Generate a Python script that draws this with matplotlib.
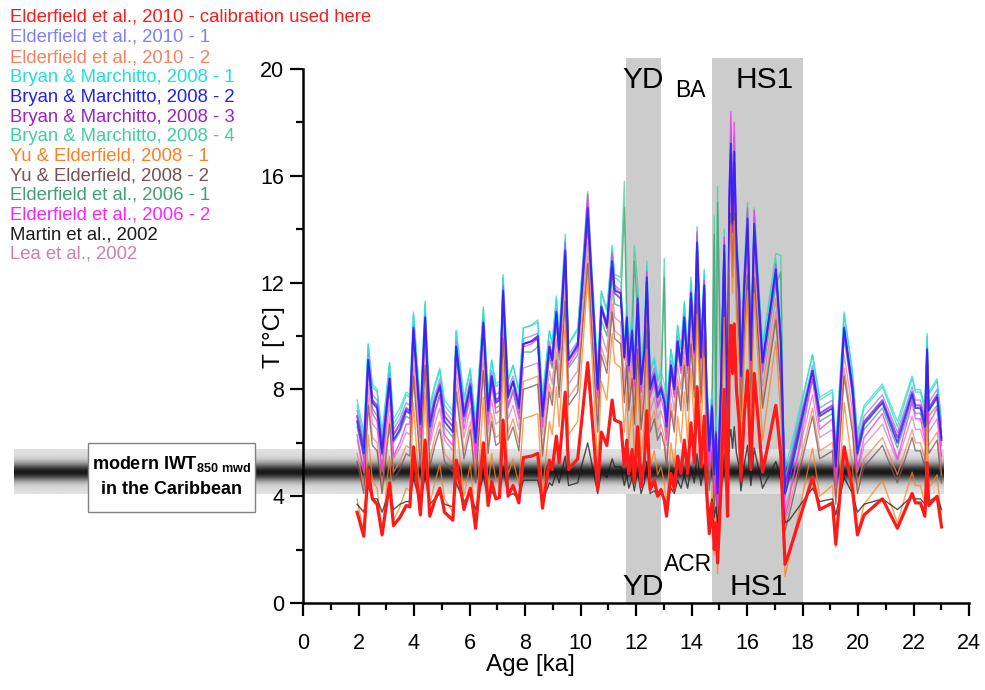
#!/usr/bin/env python3
"""
Bottom-water temperature from one Mg/Ca record, converted with 13 different calibrations
"""

import numpy as np
import matplotlib
matplotlib.use('Agg')
import matplotlib.pyplot as plt
from matplotlib.patches import Rectangle
from matplotlib.ticker import MultipleLocator

plt.rcParams['font.family'] = 'Liberation Sans'
plt.rcParams['mathtext.fontset'] = 'custom'
plt.rcParams['mathtext.rm'] = 'Liberation Sans'
plt.rcParams['mathtext.bf'] = 'Liberation Sans:bold'

# Age [ka] of the samples
age = [1.95, 2.19, 2.35, 2.50, 2.67, 2.85, 3.12, 3.26, 3.49, 3.72,
       3.85, 3.98, 4.23, 4.40, 4.57, 4.75, 4.93, 5.10, 5.40, 5.52,
       5.80, 6.03, 6.22, 6.50, 6.67, 6.80, 6.95, 7.08, 7.21, 7.39,
       7.57, 7.78, 7.94, 8.23, 8.46, 8.63, 8.88, 8.98, 9.13, 9.23,
       9.45, 9.57, 9.90, 10.03, 10.26, 10.62, 10.75, 10.95, 11.14, 11.23,
       11.45, 11.58, 11.67, 11.74, 11.86, 11.94, 12.06, 12.18, 12.30, 12.39,
       12.51, 12.66, 12.78, 12.90, 13.02, 13.10, 13.26, 13.38, 13.50, 13.62,
       13.74, 13.86, 13.98, 14.10, 14.20, 14.34, 14.46, 14.54, 14.64, 14.74,
       14.82, 14.88, 14.94, 15.06, 15.18, 15.24, 15.30, 15.36, 15.42, 15.48,
       15.54, 15.62, 15.72, 15.78, 15.90, 16.02, 16.14, 16.26, 16.56, 17.04,
       17.22, 17.30, 17.37, 17.52, 18.36, 18.62, 19.08, 19.20, 19.50, 19.80,
       19.98, 20.22, 20.88, 21.42, 21.95, 22.07, 22.25, 22.41, 22.49, 22.55,
       22.85, 23.01]

# Temperature [deg C] per calibration
t_e2010_used = [3.4, 2.5, 5.0, 3.9, 3.7, 2.55, 4.5, 2.9, 3.2, 3.65,
                3.6, 5.85, 3.3, 6.1, 3.25, 3.85, 4.3, 3.4, 3.1, 5.35,
                3.5, 4.3, 2.8, 6.0, 3.65, 4.55, 3.9, 3.95, 6.85, 4.0,
                4.4, 3.75, 5.45, 5.5, 5.6, 3.55, 5.35, 5.0, 6.25, 5.25,
                7.9, 5.0, 5.4, 6.7, 9.0, 4.25, 6.4, 5.9, 7.6, 6.85,
                6.75, 5.1, 6.1, 4.85, 5.75, 4.5, 6.6, 4.35, 5.25, 7.2,
                4.25, 4.6, 4.0, 4.25, 3.85, 3.25, 4.85, 4.25, 5.5, 4.85,
                6.1, 4.85, 6.75, 5.25, 8.1, 5.1, 7.0, 4.25, 2.6, 3.75,
                2.0, 3.0, 1.5, 4.25, 8.0, 5.5, 3.25, 9.2, 10.4, 8.6,
                10.45, 8.0, 6.75, 4.6, 7.0, 8.7, 5.0, 8.6, 4.9, 7.4,
                5.5, 3.2, 1.45, 1.9, 4.7, 3.5, 3.75, 2.2, 5.85, 4.25,
                2.55, 3.3, 3.9, 2.8, 4.1, 3.75, 3.75, 3.25, 5.25, 3.65,
                4.0, 2.85]

t_e2010_1 = [7.2, 6.0, 9.3, 7.8, 7.6, 6.0, 8.6, 6.5, 6.9, 7.5,
             7.4, 10.4, 7.0, 10.8, 7.0, 7.8, 8.4, 7.2, 6.8, 9.8,
             7.3, 8.4, 6.4, 10.6, 7.5, 8.7, 7.8, 7.9, 11.8, 8.0,
             8.5, 7.6, 9.9, 10.0, 10.1, 7.4, 9.8, 9.3, 11.0, 9.6,
             13.2, 9.3, 9.8, 11.6, 14.6, 8.3, 11.2, 10.5, 12.8, 11.8,
             11.6, 9.4, 10.8, 9.1, 10.3, 8.6, 11.4, 8.4, 9.6, 12.2,
             8.3, 8.8, 8.0, 8.3, 7.8, 7.0, 9.1, 8.3, 10.0, 9.1,
             10.8, 9.1, 11.6, 9.6, 13.4, 9.4, 12.0, 8.3, 6.1, 7.6,
             5.3, 6.6, 4.7, 8.3, 13.3, 10.0, 7.0, 14.9, 17.0, 14.1,
             16.7, 13.3, 11.6, 8.8, 12.0, 14.2, 9.3, 14.1, 9.2, 12.5,
             10.0, 6.9, 4.6, 5.2, 8.9, 7.3, 7.6, 5.6, 10.4, 8.3,
             6.0, 7.0, 7.8, 6.4, 8.1, 7.6, 7.6, 7.0, 9.6, 7.5,
             8.0, 6.4]

t_e2010_2 = [5.6, 4.4, 7.7, 6.2, 6.0, 4.4, 7.0, 4.9, 5.3, 5.9,
             5.8, 8.8, 5.4, 9.2, 5.4, 6.2, 6.8, 5.6, 5.2, 8.2,
             5.7, 6.8, 4.8, 9.0, 5.9, 7.1, 6.2, 6.3, 10.2, 6.4,
             6.9, 6.0, 8.3, 8.4, 8.5, 5.8, 8.2, 7.7, 9.4, 8.0,
             11.6, 7.7, 8.2, 10.0, 13.0, 6.7, 9.6, 8.9, 11.2, 10.2,
             10.0, 7.8, 9.2, 7.5, 8.7, 7.0, 9.8, 6.8, 8.0, 10.6,
             6.7, 7.2, 6.4, 6.7, 6.2, 5.4, 7.5, 6.7, 8.4, 7.5,
             9.2, 7.5, 10.0, 8.0, 11.8, 7.8, 10.4, 6.7, 4.5, 6.0,
             3.7, 5.0, 3.1, 6.7, 11.7, 8.4, 5.4, 13.3, 14.9, 12.5,
             14.9, 11.7, 10.0, 7.2, 10.4, 12.6, 7.7, 12.5, 7.6, 10.9,
             8.4, 5.3, 3.0, 3.6, 7.3, 5.7, 6.0, 4.0, 8.8, 6.7,
             4.4, 5.4, 6.2, 4.8, 6.5, 6.0, 6.0, 5.4, 8.0, 5.9,
             6.4, 4.8]

t_bm2008_1 = [7.6, 6.4, 9.7, 8.2, 8.0, 6.4, 9.0, 6.9, 7.3, 7.9,
              7.8, 10.8, 7.4, 11.2, 7.4, 8.2, 8.8, 7.6, 7.2, 10.2,
              7.7, 8.8, 6.8, 11.0, 7.9, 9.1, 8.2, 8.3, 12.2, 8.4,
              8.9, 8.0, 10.3, 10.4, 10.5, 7.8, 10.2, 9.7, 11.4, 10.0,
              13.6, 9.7, 10.2, 12.0, 15.0, 8.7, 11.6, 10.9, 13.2, 12.2,
              12.0, 9.8, 11.2, 9.5, 10.7, 9.0, 11.8, 8.8, 10.0, 12.6,
              8.7, 9.2, 8.4, 8.7, 8.2, 7.4, 9.5, 8.7, 10.4, 9.5,
              11.2, 9.5, 12.0, 10.0, 13.8, 9.8, 12.4, 8.7, 6.5, 8.0,
              5.7, 7.0, 5.1, 8.7, 13.7, 10.4, 7.4, 15.3, 17.3, 14.5,
              17.0, 13.7, 12.0, 9.2, 12.4, 14.6, 9.7, 14.5, 9.6, 12.9,
              10.4, 7.3, 5.0, 5.6, 9.3, 7.7, 8.0, 6.0, 10.8, 8.7,
              6.4, 7.4, 8.2, 6.8, 8.5, 8.0, 8.0, 7.4, 10.0, 7.9,
              8.4, 6.8]

t_bm2008_2 = [6.8, 5.6, 9.1, 7.5, 7.3, 5.6, 8.4, 6.1, 6.5, 7.2,
              7.1, 10.3, 6.7, 10.7, 6.6, 7.5, 8.1, 6.8, 6.4, 9.6,
              7.0, 8.1, 6.0, 10.5, 7.2, 8.5, 7.5, 7.6, 11.7, 7.7,
              8.3, 7.3, 9.7, 9.8, 10.0, 7.0, 9.6, 9.1, 10.9, 9.5,
              13.2, 9.1, 9.7, 11.5, 14.8, 8.0, 11.1, 10.4, 12.8, 11.7,
              11.6, 9.2, 10.7, 8.9, 10.2, 8.4, 11.4, 8.2, 9.5, 12.2,
              8.0, 8.5, 7.7, 8.0, 7.5, 6.6, 8.9, 8.0, 9.8, 8.9,
              10.7, 8.9, 11.6, 9.5, 13.5, 9.2, 11.9, 8.0, 5.7, 7.3,
              4.8, 6.3, 4.1, 8.0, 13.4, 9.8, 6.6, 15.1, 17.2, 14.2,
              16.9, 13.4, 11.6, 8.5, 11.9, 14.4, 9.1, 14.2, 9.0, 12.5,
              9.8, 6.5, 4.1, 4.7, 8.7, 7.0, 7.3, 5.1, 10.3, 8.0,
              5.6, 6.7, 7.5, 6.0, 7.8, 7.3, 7.3, 6.6, 9.5, 7.2,
              7.7, 6.1]

t_bm2008_3 = [7.0, 5.8, 9.1, 7.6, 7.4, 5.8, 8.4, 6.3, 6.7, 7.3,
              7.2, 10.2, 6.8, 10.6, 6.8, 7.6, 8.2, 7.0, 6.6, 9.6,
              7.1, 8.2, 6.2, 10.4, 7.3, 8.5, 7.6, 7.7, 11.6, 7.8,
              8.3, 7.4, 9.7, 9.8, 9.9, 7.2, 9.6, 9.1, 10.8, 9.4,
              13.0, 9.1, 9.6, 11.4, 14.4, 8.1, 11.0, 10.3, 12.6, 11.6,
              11.4, 9.2, 10.6, 8.9, 10.1, 8.4, 11.2, 8.2, 9.4, 12.0,
              8.1, 8.6, 7.8, 8.1, 7.6, 6.8, 8.9, 8.1, 9.8, 8.9,
              10.6, 8.9, 11.4, 9.4, 13.2, 9.2, 11.8, 8.1, 5.9, 7.4,
              5.1, 6.4, 4.5, 8.1, 13.1, 9.8, 6.8, 14.7, 16.8, 13.9,
              16.5, 13.1, 11.4, 8.6, 11.8, 14.0, 9.1, 13.9, 9.0, 12.3,
              9.8, 6.7, 4.4, 5.0, 8.7, 7.1, 7.4, 5.4, 10.2, 8.1,
              5.8, 6.8, 7.6, 6.2, 7.9, 7.4, 7.4, 6.8, 9.4, 7.3,
              7.8, 6.2]

t_bm2008_4 = [7.4, 6.2, 9.7, 8.1, 7.9, 6.2, 9.0, 6.7, 7.1, 7.8,
              7.7, 10.9, 7.3, 11.3, 7.2, 8.1, 8.7, 7.4, 7.0, 10.2,
              7.6, 8.7, 6.6, 11.1, 7.8, 9.1, 8.1, 8.2, 12.3, 8.3,
              8.9, 7.9, 10.3, 10.4, 10.6, 7.6, 10.2, 9.7, 11.5, 10.1,
              13.8, 9.7, 10.3, 12.1, 15.4, 8.6, 11.7, 11.0, 13.4, 12.3,
              12.2, 15.8, 11.3, 9.5, 10.8, 13.4, 12.0, 8.8, 10.1, 12.8,
              8.6, 9.1, 8.3, 8.6, 12.9, 7.2, 9.5, 8.6, 10.4, 9.5,
              11.3, 9.5, 12.2, 10.1, 14.1, 9.8, 12.5, 8.6, 6.3, 7.9,
              14.5, 6.9, 15.6, 8.6, 14.0, 10.4, 7.2, 15.7, 17.8, 14.8,
              17.5, 14.0, 12.2, 9.1, 12.5, 15.0, 9.7, 14.8, 9.6, 13.1,
              13.0, 7.1, 4.7, 5.3, 9.3, 7.6, 7.9, 5.7, 10.9, 8.6,
              6.2, 7.3, 8.1, 6.6, 8.4, 7.9, 7.9, 7.2, 10.1, 7.8,
              8.3, 6.7]

t_ye2008_1 = [3.9, 2.6, 6.3, 4.6, 4.3, 2.6, 5.5, 3.1, 3.6, 4.3,
              4.2, 7.5, 3.7, 7.9, 3.7, 4.5, 5.2, 3.9, 3.4, 6.8,
              4.0, 5.2, 3.0, 7.7, 4.3, 5.6, 4.6, 4.7, 9.0, 4.8,
              5.4, 4.4, 6.9, 7.0, 7.1, 4.1, 6.8, 6.3, 8.1, 6.6,
              10.5, 6.3, 6.8, 8.8, 12.2, 5.1, 8.3, 7.6, 10.1, 9.0,
              8.8, 6.4, 7.9, 6.0, 7.4, 5.5, 8.6, 5.3, 6.6, 9.5,
              5.1, 5.7, 4.8, 5.1, 4.5, 3.7, 6.0, 5.1, 7.0, 6.0,
              7.9, 6.0, 8.8, 6.6, 10.8, 6.4, 9.2, 5.1, 2.7, 4.4,
              1.8, 3.3, 1.1, 5.1, 10.7, 7.0, 3.7, 12.5, 14.2, 11.6,
              14.3, 10.7, 8.8, 5.7, 9.2, 11.7, 6.3, 11.6, 6.1, 9.8,
              7.0, 3.6, 1.0, 1.7, 5.8, 4.0, 4.4, 2.1, 7.5, 5.1,
              2.6, 3.7, 4.6, 3.0, 4.9, 4.4, 4.4, 3.7, 6.6, 4.3,
              4.8, 3.1]

t_ye2008_2 = [5.3, 4.1, 7.4, 5.9, 5.7, 4.1, 6.7, 4.6, 5.0, 5.6,
              5.5, 8.5, 5.1, 8.9, 5.1, 5.9, 6.5, 5.3, 4.9, 7.9,
              5.4, 6.5, 4.5, 8.7, 5.6, 6.8, 5.9, 6.0, 9.9, 6.1,
              6.6, 5.7, 8.0, 8.1, 8.2, 5.5, 7.9, 7.4, 9.1, 7.7,
              11.3, 7.4, 7.9, 9.7, 12.7, 6.4, 9.3, 8.6, 10.9, 9.9,
              9.7, 7.5, 8.9, 7.2, 8.4, 6.7, 9.5, 6.5, 7.7, 10.3,
              6.4, 6.9, 6.1, 6.4, 5.9, 5.1, 7.2, 6.4, 8.1, 7.2,
              8.9, 7.2, 9.7, 7.7, 11.5, 7.5, 10.1, 6.4, 4.2, 5.7,
              3.4, 4.7, 2.8, 6.4, 11.4, 8.1, 5.1, 13.0, 14.6, 12.2,
              14.6, 11.4, 9.7, 6.9, 10.1, 12.3, 7.4, 12.2, 7.3, 10.6,
              8.1, 5.0, 2.7, 3.3, 7.0, 5.4, 5.7, 3.7, 8.5, 6.4,
              4.1, 5.1, 5.9, 4.5, 6.2, 5.7, 5.7, 5.1, 7.7, 5.6,
              6.1, 4.5]

t_e2006_1 = [6.6, 5.4, 8.8, 7.3, 7.0, 5.5, 8.1, 6.0, 6.4, 7.0,
             6.9, 9.9, 6.5, 10.2, 6.4, 7.2, 7.8, 6.6, 6.2, 9.2,
             6.8, 7.8, 5.8, 10.1, 7.0, 8.2, 7.3, 7.4, 11.2, 7.4,
             8.0, 7.1, 9.4, 9.4, 9.6, 6.8, 9.2, 8.8, 10.4, 9.1,
             12.6, 8.8, 9.3, 11.0, 14.1, 7.8, 10.6, 10.0, 12.2, 11.2,
             11.1, 14.8, 10.2, 8.6, 9.8, 12.8, 10.9, 7.9, 9.1, 11.7,
             7.8, 8.2, 7.4, 7.8, 12.2, 6.4, 8.6, 7.8, 9.4, 8.6,
             10.2, 8.6, 11.1, 9.1, 12.9, 8.9, 11.4, 7.8, 5.6, 7.1,
             13.8, 6.1, 15.0, 7.8, 12.7, 9.4, 6.4, 14.3, 16.4, 13.5,
             16.1, 12.7, 11.1, 8.2, 11.4, 13.7, 8.8, 13.5, 8.6, 11.9,
             12.4, 6.4, 4.0, 4.6, 8.4, 6.8, 7.1, 5.0, 9.9, 7.8,
             5.5, 6.5, 7.3, 5.8, 7.6, 7.1, 7.1, 6.4, 9.1, 7.0,
             7.4, 5.9]

t_e2006_2 = [6.3, 4.9, 8.9, 7.1, 6.8, 5.0, 8.1, 5.5, 6.0, 6.7,
             6.7, 10.3, 6.2, 10.7, 6.1, 7.1, 7.8, 6.3, 5.9, 9.5,
             6.5, 7.8, 5.4, 10.5, 6.7, 8.2, 7.1, 7.2, 11.9, 7.3,
             7.9, 6.9, 9.6, 9.7, 9.9, 6.6, 9.5, 8.9, 10.9, 9.3,
             13.5, 8.9, 9.5, 11.6, 15.3, 7.7, 11.1, 10.3, 13.1, 11.9,
             11.7, 9.1, 10.7, 8.7, 10.1, 8.1, 11.5, 7.9, 9.3, 12.4,
             7.7, 8.3, 7.3, 7.7, 7.1, 6.1, 8.7, 7.7, 9.7, 8.7,
             10.7, 8.7, 11.7, 9.3, 13.9, 9.1, 12.1, 7.7, 5.1, 6.9,
             4.1, 5.7, 3.3, 7.7, 13.7, 9.7, 6.1, 15.6, 18.4, 14.7,
             18.0, 13.7, 11.7, 8.3, 12.1, 14.8, 8.9, 14.7, 8.7, 12.7,
             9.7, 6.0, 3.2, 3.9, 8.4, 6.5, 6.9, 4.4, 10.3, 7.7,
             5.0, 6.2, 7.1, 5.4, 7.5, 6.9, 6.9, 6.1, 9.3, 6.7,
             7.3, 5.5]

t_martin2002 = [3.7, 3.4, 4.4, 3.9, 3.9, 3.4, 4.2, 3.5, 3.7, 3.8,
                3.8, 4.7, 3.7, 4.8, 3.7, 3.9, 4.1, 3.7, 3.6, 4.5,
                3.8, 4.1, 3.5, 4.8, 3.8, 4.2, 3.9, 4.0, 5.1, 4.0,
                4.1, 3.9, 4.6, 4.6, 4.6, 3.8, 4.5, 4.4, 4.9, 4.5,
                5.5, 4.4, 4.5, 5.1, 6.0, 4.1, 4.9, 4.7, 5.4, 5.1,
                5.1, 4.4, 4.8, 4.3, 4.7, 4.2, 5.0, 4.1, 4.5, 5.3,
                4.1, 4.2, 4.0, 4.1, 3.9, 3.7, 4.3, 4.1, 4.6, 4.3,
                4.8, 4.3, 5.1, 4.5, 5.6, 4.4, 5.2, 4.1, 3.4, 3.9,
                3.2, 3.6, 3.0, 4.1, 5.6, 4.6, 3.7, 6.1, 6.5, 5.8,
                6.6, 5.6, 5.1, 4.2, 5.2, 5.9, 4.4, 5.8, 4.3, 5.3,
                4.6, 3.7, 3.0, 3.1, 4.3, 3.8, 3.9, 3.3, 4.7, 4.1,
                3.4, 3.7, 3.9, 3.5, 4.0, 3.9, 3.9, 3.7, 4.5, 3.8,
                4.0, 3.5]

t_lea2002 = [6.1, 4.9, 8.2, 6.7, 6.5, 4.9, 7.5, 5.4, 5.8, 6.4,
             6.3, 9.3, 5.9, 9.7, 5.9, 6.7, 7.3, 6.1, 5.7, 8.7,
             6.2, 7.3, 5.3, 9.5, 6.4, 7.6, 6.7, 6.8, 10.7, 6.9,
             7.4, 6.5, 8.8, 8.9, 9.0, 6.3, 8.7, 8.2, 9.9, 8.5,
             12.1, 8.2, 8.7, 10.5, 13.5, 7.2, 10.1, 9.4, 11.7, 10.7,
             10.5, 8.3, 9.7, 8.0, 9.2, 7.5, 10.3, 7.3, 8.5, 11.1,
             7.2, 7.7, 6.9, 7.2, 6.7, 5.9, 8.0, 7.2, 8.9, 8.0,
             9.7, 8.0, 10.5, 8.5, 12.3, 8.3, 10.9, 7.2, 5.0, 6.5,
             4.2, 5.5, 3.6, 7.2, 12.2, 8.9, 5.9, 13.8, 15.4, 13.0,
             15.5, 12.2, 10.5, 7.7, 10.9, 13.1, 8.2, 13.0, 8.1, 11.4,
             8.9, 5.8, 3.5, 4.1, 7.8, 6.2, 6.5, 4.5, 9.3, 7.2,
             4.9, 5.9, 6.7, 5.3, 7.0, 6.5, 6.5, 5.9, 8.5, 6.4,
             6.9, 5.3]

# Legend entries (top to bottom) with their colours
labels = ['Elderfield et al., 2010 - calibration used here',
          'Elderfield et al., 2010 - 1',
          'Elderfield et al., 2010 - 2',
          'Bryan & Marchitto, 2008 - 1',
          'Bryan & Marchitto, 2008 - 2',
          'Bryan & Marchitto, 2008 - 3',
          'Bryan & Marchitto, 2008 - 4',
          'Yu & Elderfield, 2008 - 1',
          'Yu & Elderfield, 2008 - 2',
          'Elderfield et al., 2006 - 1',
          'Elderfield et al., 2006 - 2',
          'Martin et al., 2002',
          'Lea et al., 2002']
colors = ['#ff1a1a', '#7f7fff', '#f9805f', '#1fe0e0', '#2020ff', '#9a22c8',
          '#40cf9f', '#ff7f20', '#7a5050', '#40a070', '#ff22ff', '#1a1a1a',
          '#d080a8']
series = [t_e2010_used, t_e2010_1, t_e2010_2, t_bm2008_1, t_bm2008_2,
          t_bm2008_3, t_bm2008_4, t_ye2008_1, t_ye2008_2, t_e2006_1,
          t_e2006_2, t_martin2002, t_lea2002]

# Climate intervals (shaded) and the modern intermediate-water band
yd_span = (11.65, 12.9)
hs1_span = (14.75, 18.0)
iwt_band = (4.1, 5.75)
iwt_core = 4.9


def main():
    fig = plt.figure(figsize=(9.85, 6.9), dpi=100)
    ax = fig.add_axes([303 / 985, 87 / 690, 666 / 985, 544.7 / 690])

    ax.axvspan(*yd_span, color='#cccccc', lw=0, zorder=0)
    ax.axvspan(*hs1_span, color='#cccccc', lw=0, zorder=0)

    # grey gradient bar, runs out to the left edge of the figure
    yy = np.linspace(iwt_band[1], iwt_band[0], 200)
    half = np.where(yy > iwt_core, iwt_band[1] - iwt_core, iwt_core - iwt_band[0])
    t = np.abs(yy - iwt_core) / half
    shade = 0.88 - 0.78 * np.exp(-(t / 0.4) ** 2)
    img = ax.imshow(shade[:, None], cmap='gray', vmin=0, vmax=1, aspect='auto',
                    extent=[-10.4, 23.1, iwt_band[0], iwt_band[1]],
                    interpolation='bilinear', zorder=1)
    img.set_clip_on(False)

    # draw order: light bundle first, red calibration on top
    order = [6, 9, 3, 12, 2, 8, 10, 1, 5, 4, 7, 11, 0]
    for i in order:
        lw, alpha = 1.0, 0.75
        if i in (4, 5):
            lw, alpha = 1.4, 0.8
        if i == 0:
            lw, alpha = 2.3, 1.0
        ax.plot(age, series[i], color=colors[i], lw=lw, alpha=alpha, zorder=2)

    ax.set_xlim(0, 24)
    ax.set_ylim(0, 20.4)
    ax.xaxis.set_major_locator(MultipleLocator(2))
    ax.xaxis.set_minor_locator(MultipleLocator(1))
    ax.yaxis.set_minor_locator(MultipleLocator(2))
    ax.set_yticks([0, 4, 8, 12, 16, 20])

    for s in ('top', 'right'):
        ax.spines[s].set_visible(False)
    for s in ('left', 'bottom'):
        ax.spines[s].set_linewidth(1.8)
    ax.spines['left'].set_bounds(0, 20)

    ax.tick_params(which='major', length=9.5, width=1.6, labelsize=15.5)
    ax.tick_params(which='minor', length=5, width=1.6)
    ax.tick_params(axis='x', which='major', pad=12)
    ax.tick_params(axis='y', which='major', pad=4)

    ax.set_xlabel('Age [ka]', fontsize=17.5)
    ax.xaxis.set_label_coords(0.342, -0.094)
    ax.set_ylabel('T [°C]', fontsize=17.5)
    ax.yaxis.set_label_coords(-0.027, 0.488)

    # interval labels
    ax.text(12.25, 19.29, 'YD', fontsize=21.5, ha='center', va='baseline')
    ax.text(13.95, 18.95, 'BA', fontsize=16.5, ha='center', va='baseline')
    ax.text(16.63, 19.29, 'HS1', fontsize=21.5, ha='center', va='baseline')
    ax.text(12.25, 0.30, 'YD', fontsize=21.5, ha='center', va='baseline')
    ax.text(13.87, 1.2, 'ACR', fontsize=16.5, ha='center', va='baseline')
    ax.text(16.41, 0.30, 'HS1', fontsize=21.5, ha='center', va='baseline')

    # box over the grey bar
    fig.patches.append(Rectangle((88 / 985, 1 - 512 / 690), 167 / 985, 69 / 690,
                                 transform=fig.transFigure, facecolor='white',
                                 edgecolor='#808080', lw=1.0, zorder=5))
    fig.text(171.5 / 985, 1 - 464 / 690, r'modern IWT$_{\mathbf{850\ mwd}}$',
             fontsize=13, fontweight='bold', ha='center', va='center', zorder=6)
    fig.text(171.5 / 985, 1 - 489 / 690, 'in the Caribbean',
             fontsize=13, fontweight='bold', ha='center', va='center', zorder=6)

    # coloured text legend at the top left
    for i, (lab, col) in enumerate(zip(labels, colors)):
        y = 17 + 19.6 * i + (2 if i >= 2 else 0)
        fig.text(10 / 985, 1 - y / 690, lab, color=col, fontsize=13.3,
                 ha='left', va='center')

    fig.savefig('out.png', dpi=100)


if __name__ == "__main__":
    main()
